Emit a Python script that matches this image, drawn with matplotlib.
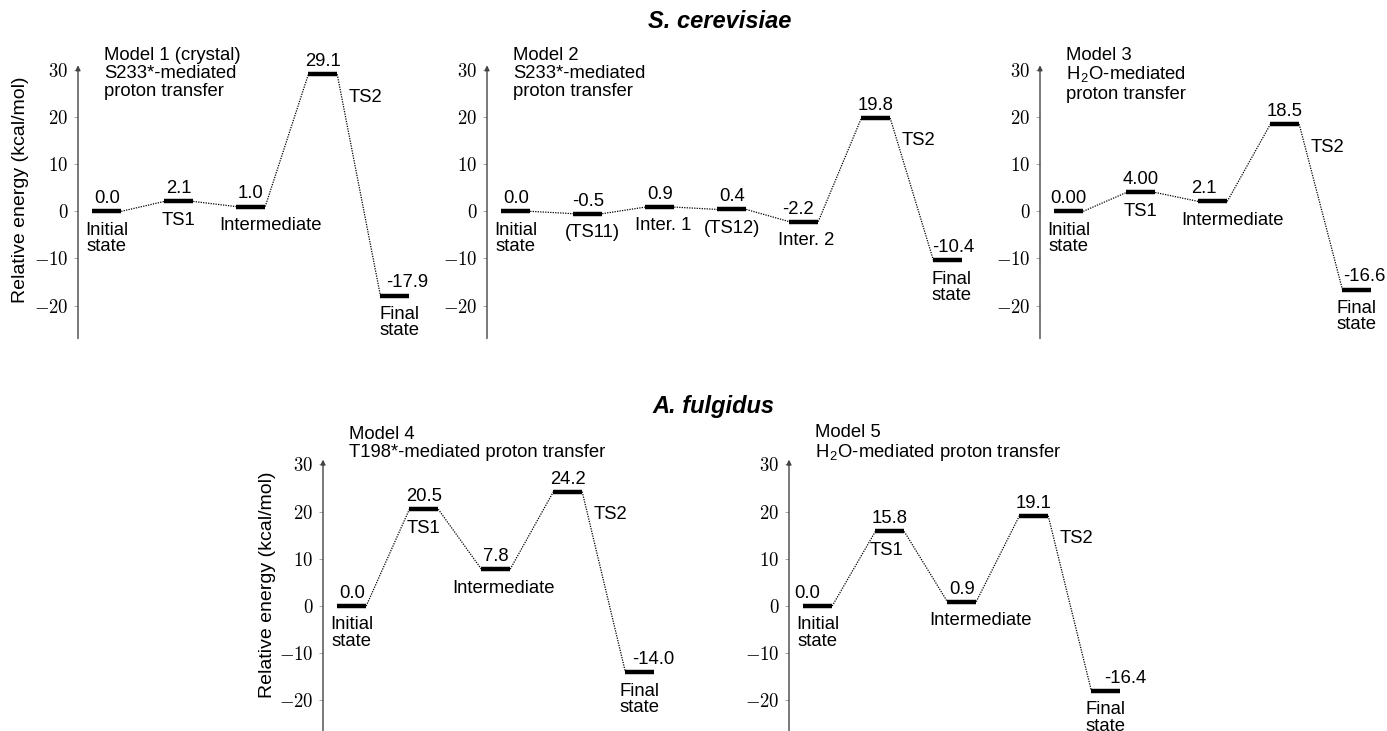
import matplotlib as mpl

mpl.use('Agg')
import matplotlib.pyplot as plt
from matplotlib.ticker import FuncFormatter

plt.rcParams['font.family'] = ['Liberation Sans', 'DejaVu Sans']
plt.rcParams['mathtext.fontset'] = 'cm'

# ---- data ----
m1_names = ["Initial\nstate", "TS1", "Intermediate", "TS2", "Final\nstate"]
m1_values = [0.0, 2.1, 1.0, 29.1, -17.9]
m1_labels = ["0.0", "2.1", "1.0", "29.1", "-17.9"]
m1_note = "Model 1 (crystal)\nS233*-mediated\nproton transfer"

m2_names = ["Initial\nstate", "(TS11)", "Inter. 1", "(TS12)", "Inter. 2", "TS2", "Final\nstate"]
m2_values = [0.0, -0.5, 0.9, 0.4, -2.2, 19.8, -10.4]
m2_labels = ["0.0", "-0.5", "0.9", "0.4", "-2.2", "19.8", "-10.4"]
m2_note = "Model 2\nS233*-mediated\nproton transfer"

m3_names = ["Initial\nstate", "TS1", "Intermediate", "TS2", "Final\nstate"]
m3_values = [0.0, 4.0, 2.1, 18.5, -16.6]
m3_labels = ["0.00", "4.00", "2.1", "18.5", "-16.6"]
m3_note = "Model 3\nH$_\\mathregular{2}$O-mediated\nproton transfer"

m4_names = ["Initial\nstate", "TS1", "Intermediate", "TS2", "Final\nstate"]
m4_values = [0.0, 20.5, 7.8, 24.2, -14.0]
m4_labels = ["0.0", "20.5", "7.8", "24.2", "-14.0"]
m4_note = "Model 4\nT198*-mediated proton transfer"

m5_names = ["Initial\nstate", "TS1", "Intermediate", "TS2", "Final\nstate"]
m5_values = [0.0, 15.8, 0.9, 19.1, -18.0]   # bar drawn lower than its label in the source
m5_labels = ["0.0", "15.8", "0.9", "19.1", "-16.4"]
m5_note = "Model 5\nH$_\\mathregular{2}$O-mediated proton transfer"

yticks = [-20, -10, 0, 10, 20, 30]

# ---- layout (pixels of a 1387x731 canvas) ----
W, H = 1387, 731
PX = 72.0          # pixels per state
half = 0.2         # half bar width in state units
FS = 13.3


def add_panel(spine_x, top_px, bot_px, n):
    width = (n - 0.1) * PX
    return fig.add_axes([spine_x / W, 1 - bot_px / H, width / W, (bot_px - top_px) / H])


def draw(ax, names, values, labels, note, note_up, name_dx, val_dx):
    xs = list(range(len(values)))
    ax.set_xlim(-0.4, len(values) - 0.5)
    ax.set_ylim(-27, 31)
    ax.hlines(values, [x - half for x in xs], [x + half for x in xs], colors='k', lw=3.2)
    for i in range(len(xs) - 1):
        ax.plot([xs[i] + half, xs[i + 1] - half], [values[i], values[i + 1]],
                ls=(0, (1, 1)), color='k', lw=0.9)
    for i, (x, v) in enumerate(zip(xs, values)):
        ax.annotate(labels[i], (x + val_dx[i], v), xytext=(0, 3), textcoords='offset points',
                    ha='center', va='bottom', fontsize=FS)
        if names[i] == "TS2":
            ax.annotate(names[i], (x + half, v), xytext=(8, -16.5), textcoords='offset points',
                        ha='left', va='center', fontsize=FS)
        else:
            ax.annotate(names[i], (x + name_dx[i], v), xytext=(0, -7.5), textcoords='offset points',
                        ha='center', va='top', fontsize=FS, linespacing=0.95)
    ax.annotate(note, (0, 1), xycoords='axes fraction', xytext=(18.7, note_up),
                textcoords='offset points', ha='left', va='top', fontsize=FS, linespacing=1.08)
    for s in ['top', 'right', 'bottom', 'left']:
        ax.spines[s].set_visible(False)
    ax.set_xticks([])
    ax.set_yticks(yticks)
    ax.yaxis.set_major_formatter(FuncFormatter(lambda v, p: r'$%d$' % v))
    ax.tick_params(axis='y', length=3, width=0.6, color='#999999', pad=4, labelsize=13.5)
    ax.annotate('', xy=(0, 1), xytext=(0, 0), xycoords='axes fraction',
                arrowprops=dict(arrowstyle='-|>', lw=1.0, color='#444444',
                                mutation_scale=7, shrinkA=0, shrinkB=0))


fig = plt.figure(figsize=(W / 100, H / 100), dpi=100)

top_t, top_b = 65.3, 338.5
bot_t, bot_b = 459.6, 733.5

ax1 = add_panel(78, top_t, top_b, 5)
draw(ax1, m1_names, m1_values, m1_labels, m1_note, 13.5,
     [0, 0, 0.28, 0, 0.07], [0, 0, 0, 0, 0.17])
ax2 = add_panel(487, top_t, top_b, 7)
draw(ax2, m2_names, m2_values, m2_labels, m2_note, 13.5,
     [0, 0.07, 0.05, 0, 0.03, 0, 0.05], [0, 0, 0, 0, -0.08, 0, 0.08])
ax3 = add_panel(1040, top_t, top_b, 5)
draw(ax3, m3_names, m3_values, m3_labels, m3_note, 13.5,
     [0, 0, 0.28, 0, 0.0], [0, 0, -0.12, 0, 0.1])
ax4 = add_panel(323, bot_t, bot_b, 5)
draw(ax4, m4_names, m4_values, m4_labels, m4_note, 24.5,
     [0, 0, 0.1, 0, 0.0], [0, 0, 0, 0, 0.18])
ax5 = add_panel(789, bot_t, bot_b, 5)
draw(ax5, m5_names, m5_values, m5_labels, m5_note, 25.5,
     [0, -0.05, 0.26, 0, 0.0], [-0.15, 0, 0, 0, 0.27])

fig.text(720 / W, 1 - 22 / H, "S. cerevisiae", ha='center', va='center',
         fontsize=17, fontweight='bold', fontstyle='italic')
fig.text(713 / W, 1 - 407 / H, "A. fulgidus", ha='center', va='center',
         fontsize=17, fontweight='bold', fontstyle='italic')

fig.text(21 / W, 1 - 190 / H, "Relative energy (kcal/mol)", rotation=90,
         ha='center', va='center', fontsize=14)
fig.text(268 / W, 1 - 585 / H, "Relative energy (kcal/mol)", rotation=90,
         ha='center', va='center', fontsize=14)

fig.savefig("out.png", dpi=100)
